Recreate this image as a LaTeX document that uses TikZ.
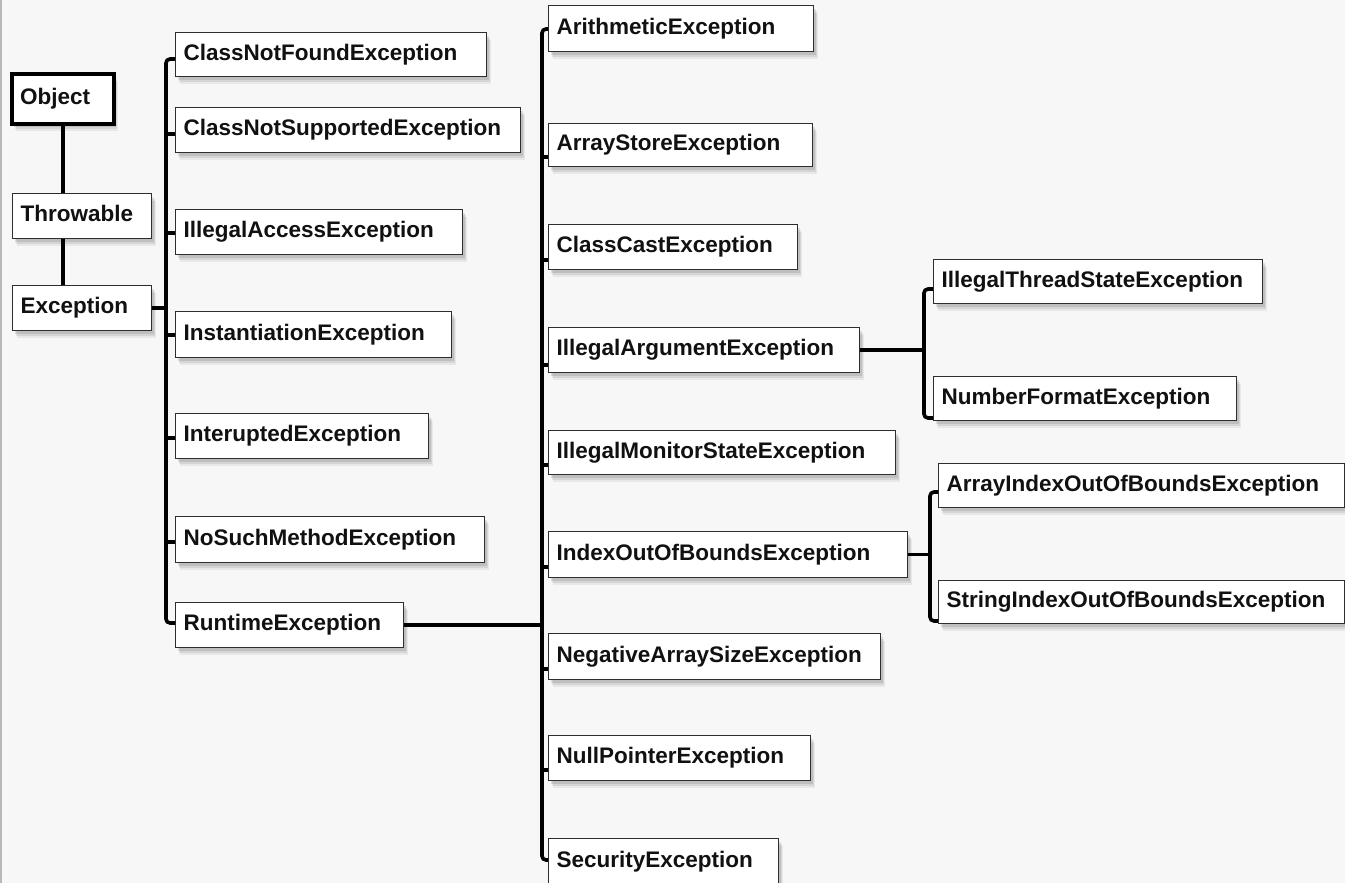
\documentclass[tikz,border=0pt]{standalone}
\usepackage{fontspec}
\setmainfont{Liberation Sans}
\usetikzlibrary{shadows}
\definecolor{bg}{HTML}{F7F7F7}
\definecolor{bd}{HTML}{2E2E2E}
\definecolor{txt}{HTML}{111111}
\tikzset{
  ebx/.style={draw=bd, line width=1.3pt, fill=white, inner xsep=8pt, inner ysep=0pt,
    align=left, font=\bfseries\fontsize{22.5}{26}\selectfont, text=txt,
    text height=16pt, text depth=4.5pt,
    drop shadow={shadow xshift=4pt, shadow yshift=-7pt, opacity=0.06, fill=black, draw=none},
    drop shadow={shadow xshift=3pt, shadow yshift=-5pt, opacity=0.08, fill=black, draw=none},
    drop shadow={shadow xshift=2pt, shadow yshift=-3pt, opacity=0.10, fill=black, draw=none}},
  rootbx/.style={draw=black, line width=4pt},
  conn/.style={draw=black, line width=3.6pt},
  trunk/.style={conn, rounded corners=4pt}
}
\newcommand\ebox[7][]{%
  \pgfmathsetmacro\tw{#5-#3-16}\pgfmathsetmacro\hh{#6-#4}%
  \node[ebx,#1,text width=\tw pt,minimum height=\hh pt,anchor=north west] (#2) at (#3,#4) {#7};}
\begin{document}
\begin{tikzpicture}[x=1pt,y=-1pt]
\fill[bg] (0,0) rectangle (1345,883);
\useasboundingbox (0,0) rectangle (1345,883);
\draw[gray!55, line width=1.5pt] (0.75,0) -- (0.75,883);

% root chain
\ebox[rootbx]{obj}{10}{72}{112}{122}{Object}
\ebox{thr}{12}{193}{151}{238}{Throwable}
\ebox{exc}{12}{285}{151}{330}{Exception}

% column 1
\ebox{cnf}{175}{32}{486}{76}{ClassNotFoundException}
\ebox{cns}{175}{107}{520}{152}{ClassNotSupportedException}
\ebox{iac}{175}{209}{462}{254}{IllegalAccessException}
\ebox{ins}{175}{311}{451}{357}{InstantiationException}
\ebox{int}{175}{413}{428}{458}{InteruptedException}
\ebox{nsm}{175}{516}{484}{562}{NoSuchMethodException}
\ebox{rt}{175}{602}{403}{647}{RuntimeException}

% column 2
\ebox{ari}{548}{5}{813}{51}{ArithmeticException}
\ebox{ase}{548}{123}{812}{166}{ArrayStoreException}
\ebox{cce}{548}{224}{797}{269}{ClassCastException}
\ebox{iae}{548}{327}{859}{372}{IllegalArgumentException}
\ebox{ims}{548}{430}{895}{474}{IllegalMonitorStateException}
\ebox{ioe}{548}{531}{907}{577}{IndexOutOfBoundsException}
\ebox{nas}{548}{633}{880}{679}{NegativeArraySizeException}
\ebox{npe}{548}{735}{810}{780}{NullPointerException}
\ebox{sec}{548}{838}{778}{884}{SecurityException}

% column 3
\ebox{its}{933}{259}{1262}{303}{IllegalThreadStateException}
\ebox{nfe}{933}{376}{1236}{420}{NumberFormatException}
\ebox{aie}{938}{463}{1344}{507}{ArrayIndexOutOfBoundsException}
\ebox{sie}{938}{580}{1344}{623}{StringIndexOutOfBoundsException}

% root connectors
\draw[conn] (obj.south) -- (obj.south |- thr.north);
\draw[conn] (obj.south |- thr.south) -- (obj.south |- exc.north);

% Exception -> column 1
\draw[conn] (exc.east) -- (exc.east -| 166,0);
\draw[trunk] (cnf.west |- 0,59) -| (166,623) -- (rt.west |- 0,623);
\draw[conn] (166,134) -- (cns.west |- 0,134);
\draw[conn] (166,233) -- (iac.west |- 0,233);
\draw[conn] (166,335) -- (ins.west |- 0,335);
\draw[conn] (166,438) -- (int.west |- 0,438);
\draw[conn] (166,542) -- (nsm.west |- 0,542);

% RuntimeException -> column 2
\draw[conn] (rt.east) -- (rt.east -| 542,0);
\draw[trunk] (ari.west |- 0,29) -| (542,860) -- (sec.west |- 0,860);
\draw[conn] (542,157) -- (ase.west |- 0,157);
\draw[conn] (542,260) -- (cce.west |- 0,260);
\draw[conn] (542,365) -- (iae.west |- 0,365);
\draw[conn] (542,465) -- (ims.west |- 0,465);
\draw[conn] (542,567) -- (ioe.west |- 0,567);
\draw[conn] (542,669) -- (nas.west |- 0,669);
\draw[conn] (542,770) -- (npe.west |- 0,770);

% IllegalArgumentException -> column 3
\draw[conn] (iae.east) -- (iae.east -| 924,0);
\draw[trunk] (its.west |- 0,289) -| (924,418) -- (nfe.west |- 0,418);

% IndexOutOfBoundsException -> column 3
\draw[conn] (ioe.east) -- (ioe.east -| 930,0);
\draw[trunk] (aie.west |- 0,492) -| (930,621) -- (sie.west |- 0,621);
\end{tikzpicture}
\end{document}
